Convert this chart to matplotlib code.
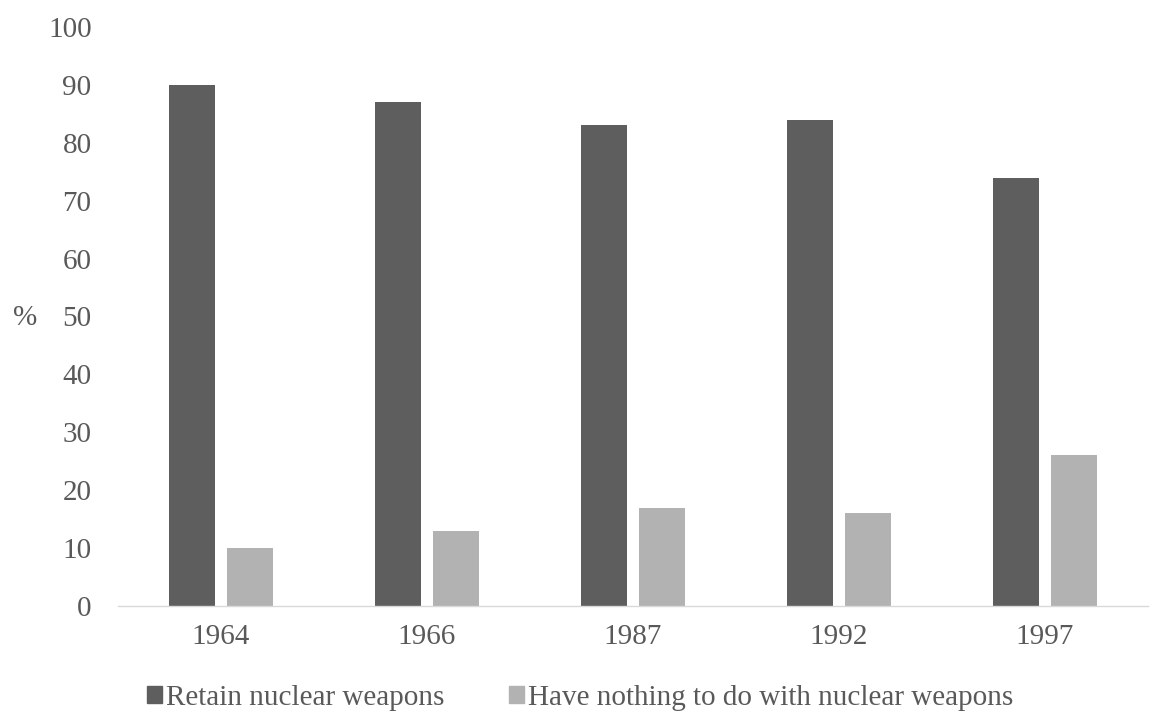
import numpy as np
import matplotlib.pyplot as plt
from matplotlib.patches import Patch

plt.rcParams['font.family'] = ['Liberation Serif', 'DejaVu Serif']

years = ['1964', '1966', '1987', '1992', '1997']
retain = [90, 87, 83, 84, 74]
nothing = [10, 13, 17, 16, 26]
series_names = ['Retain nuclear weapons', 'Have nothing to do with nuclear weapons']

dark = '#5e5e5e'
light = '#b2b2b2'
txt = '#595959'

fig = plt.figure(figsize=(11.53, 7.2), dpi=100)
ax = fig.add_axes([118/1153, 1-606/720, (1148-118)/1153, (606-27)/720])

x = np.arange(len(years))
w = 0.223
off = 0.143
ax.bar(x - off, retain, w, color=dark)
ax.bar(x + off, nothing, w, color=light)

ax.set_xlim(-0.5, len(years) - 0.5)
ax.set_ylim(0, 100)
ax.set_yticks(range(0, 101, 10))
ax.set_xticks(x)
ax.set_xticklabels(years)
ax.tick_params(axis='both', length=0, labelsize=21, labelcolor=txt)
ax.tick_params(axis='x', pad=13)
ax.tick_params(axis='y', pad=19)
for s in ['top', 'right', 'left']:
    ax.spines[s].set_visible(False)
ax.spines['bottom'].set_color('#d9d9d9')
ax.spines['bottom'].set_linewidth(1.0)

fig.text(13/1153, 1-318/720, '%', fontsize=21, va='center', ha='left', color=txt)

handles = [Patch(color=dark), Patch(color=light)]
leg = fig.legend(handles, series_names, loc='center', bbox_to_anchor=(580/1153, 1-698/720),
                 ncol=2, frameon=False, fontsize=21, handlelength=0.52, handleheight=0.52,
                 handletextpad=0.15, columnspacing=2.2)
for t in leg.get_texts():
    t.set_color(txt)

fig.savefig('out.png', dpi=100)
